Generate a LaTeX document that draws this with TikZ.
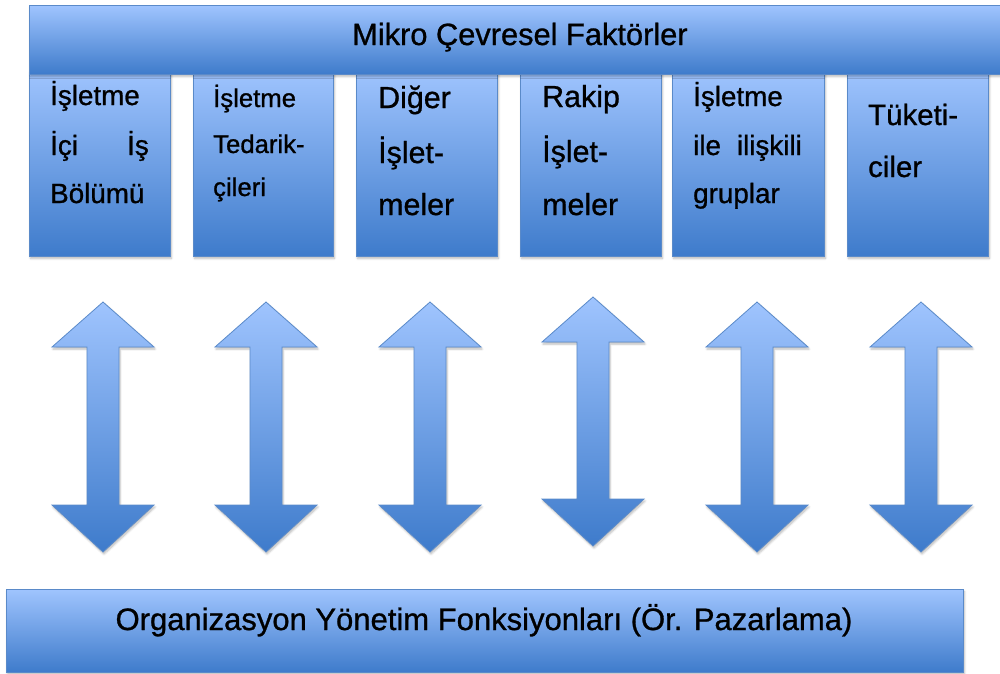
\documentclass[tikz,border=0pt]{standalone}
\usepackage{fontspec}
\setmainfont{Liberation Sans}[FakeBold=0.9]
\usetikzlibrary{shadows.blur}

\definecolor{shapetop}{HTML}{9FC4FE}
\definecolor{shapemid}{HTML}{78A6EE}
\definecolor{shapebot}{HTML}{3E7BCB}
\definecolor{shapeline}{HTML}{5A8AC9}

\tikzset{
  panel/.style={draw=shapeline, line width=0.8pt,
    top color=shapetop, middle color=shapemid, bottom color=shapebot,
    blur shadow={shadow xshift=1pt, shadow yshift=-2pt, shadow blur steps=6, shadow opacity=28}},
  label/.style={anchor=base west, inner sep=0pt, text=black},
  sz/.style={font=\fontsize{#1}{#1}\selectfont}
}

% one up-and-down arrow: centre x, top tip y, bottom tip y
\newcommand\twowayarrow[3]{%
  \path[panel]
    (#1,#2) -- ++(51,45) -- ++(-35,0) -- (#1+16,#3-47) -- ++(35,0)
    -- (#1,#3) -- ++(-51,-47) -- ++(35,0) -- (#1-16,#2+45) -- ++(-35,0) -- cycle;}

\begin{document}
\begin{tikzpicture}[x=1pt,y=-1pt]
\useasboundingbox (0,0) rectangle (1000,673);

% factor boxes, tucked under the header bar
\node[panel, anchor=north west, minimum width=141, minimum height=186] (b1) at (29,70) {};
\node[panel, anchor=north west, minimum width=140, minimum height=186] (b2) at (193,70) {};
\node[panel, anchor=north west, minimum width=141, minimum height=186] (b3) at (356,70) {};
\node[panel, anchor=north west, minimum width=141, minimum height=186] (b4) at (520,70) {};
\node[panel, anchor=north west, minimum width=152, minimum height=186] (b5) at (672,70) {};
\node[panel, anchor=north west, minimum width=141, minimum height=186] (b6) at (847,70) {};

% header bar
\node[panel, anchor=north west, minimum width=975, minimum height=69] (mikro) at (29,5) {};
\node[label, sz=30.8] (mikrot) at (352,45) {Mikro Çevresel Faktörler};

% box texts
\node[label, sz=27.8] (t11) at (50,105) {İşletme};
\node[label, sz=27.8] (t12) at (50,155) {İçi};
\node[label, sz=27.8, anchor=base east] (t13) at (149,155) {İş};
\node[label, sz=27.8] (t14) at (50,203) {Bölümü};

\node[label, sz=25.7] (t21) at (213,107) {İşletme};
\node[label, sz=25.7] (t22) at (213,153) {Tedarik-};
\node[label, sz=25.7] (t23) at (213,196) {çileri};

\node[label, sz=30.4] (t31) at (378,108) {Diğer};
\node[label, sz=30.4] (t32) at (378,163) {İşlet-};
\node[label, sz=30.4] (t33) at (378,215) {meler};

\node[label, sz=30.4] (t41) at (542,107) {Rakip};
\node[label, sz=30.4] (t42) at (542,162) {İşlet-};
\node[label, sz=30.4] (t43) at (542,215) {meler};

\node[label, sz=27.8] (t51) at (693,106) {İşletme};
\node[label, sz=27.8] (t52) at (693,155) {ile};
\node[label, sz=27.8, anchor=base east] (t53) at (802,155) {ilişkili};
\node[label, sz=27.8] (t54) at (693,203) {gruplar};

\node[label, sz=29.4] (t61) at (868,125) {Tüketi-};
\node[label, sz=29.4] (t62) at (868,177) {ciler};

% two-way arrows between the factors and the organisation
\twowayarrow{103}{302}{552}
\twowayarrow{266}{302}{552}
\twowayarrow{430}{302}{552}
\twowayarrow{593}{297}{546}
\twowayarrow{757}{302}{552}
\twowayarrow{921}{302}{552}

% organisation bar
\node[panel, anchor=north west, minimum width=957, minimum height=83] (org) at (6,589) {};
\node[label, sz=31, anchor=base] (orgt) at (484,630) {Organizasyon Yönetim Fonksiyonları (Ör. Pazarlama)};
\end{tikzpicture}
\end{document}
